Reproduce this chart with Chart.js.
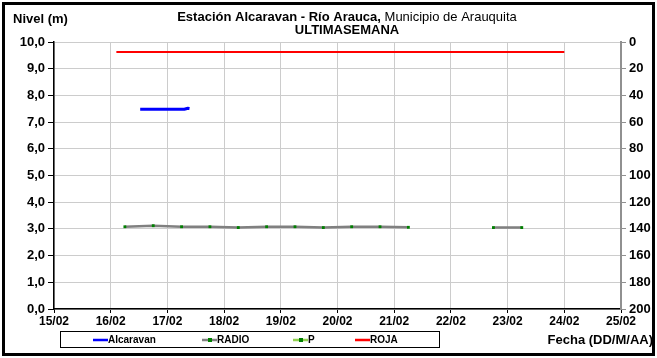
<!DOCTYPE html>
<html>
<head>
<meta charset="utf-8">
<script src="https://cdn.jsdelivr.net/npm/chart.js@4.4.1/dist/chart.umd.min.js"></script>
<style>
  html, body { margin: 0; padding: 0; background: #fff; }
  canvas { display: block; }
</style>
</head>
<body>
<canvas id="chart" width="657" height="358"></canvas>
<script>
// Data (x = day of February, y = level in m)
const alcaravanX = [16.52, 16.60, 16.70, 16.80, 16.90, 17.00, 17.10, 17.20, 17.30, 17.33, 17.36, 17.39];
const alcaravanY = [7.48, 7.48, 7.48, 7.48, 7.48, 7.48, 7.48, 7.48, 7.48, 7.50, 7.52, 7.51];

const radioX = [16.25, 16.75, 17.25, 17.75, 18.25, 18.75, 19.25, 19.75, 20.25, 20.75, 21.25, 22.0, 22.75, 23.25];
const radioY = [3.08, 3.12, 3.08, 3.08, 3.05, 3.08, 3.08, 3.05, 3.08, 3.08, 3.06, null, 3.05, 3.05];

const pX = [];
const pY = [];

const rojaX = [16.1, 24.0];
const rojaY = [9.63, 9.63];

const xMin = 15, xMax = 25;
const leftTicks = { min: 0, max: 10, step: 1 };
const rightTicks = { min: 0, max: 200, step: 20 };

const FONT = "'Liberation Sans', Arial, sans-serif";

const pts = (xs, ys) => xs.map((x, i) => ({ x, y: ys[i] }));

// Titles, outer frame, legend box and axis caption
const decor = {
  id: 'decor',
  afterDraw(chart) {
    const ctx = chart.ctx;
    ctx.save();

    // outer frame
    ctx.strokeStyle = '#000';
    ctx.lineWidth = 3;
    ctx.strokeRect(3.5, 3.5, 650, 351);

    ctx.fillStyle = '#000';
    ctx.textBaseline = 'middle';

    ctx.font = `bold 13px ${FONT}`;
    ctx.textAlign = 'left';
    ctx.fillText('Nivel (m)', 13, 19);

    // title line 1: bold + normal part
    const boldPart = 'Estación Alcaravan - Río Arauca,';
    const normalPart = ' Municipio de Arauquita';
    ctx.font = `bold 13px ${FONT}`;
    const wb = ctx.measureText(boldPart).width;
    ctx.font = `13px ${FONT}`;
    const wn = ctx.measureText(normalPart).width;
    const cx = 347;
    const x0 = cx - (wb + wn) / 2;
    ctx.font = `bold 13px ${FONT}`;
    ctx.fillText(boldPart, x0, 17);
    ctx.font = `13px ${FONT}`;
    ctx.fillText(normalPart, x0 + wb, 17);

    ctx.font = `bold 13px ${FONT}`;
    ctx.textAlign = 'center';
    ctx.fillText('ULTIMASEMANA', cx, 30);

    // axis caption
    ctx.font = `bold 13px ${FONT}`;
    ctx.textAlign = 'right';
    ctx.fillText('Fecha (DD/M/AA)', 653, 340);

    // legend box
    ctx.lineWidth = 1;
    ctx.strokeStyle = '#000';
    ctx.strokeRect(60.5, 331.5, 379, 16);
    const items = [
      { x: 93, ds: chart.data.datasets[0] },
      { x: 202, ds: chart.data.datasets[1] },
      { x: 293, ds: chart.data.datasets[2] },
      { x: 355, ds: chart.data.datasets[3] },
    ];
    ctx.font = `bold 10px ${FONT}`;
    ctx.textAlign = 'left';
    const ly = 340;
    items.forEach(it => {
      ctx.strokeStyle = it.ds.borderColor;
      ctx.lineWidth = 2.5;
      ctx.beginPath();
      ctx.moveTo(it.x, ly);
      ctx.lineTo(it.x + 15, ly);
      ctx.stroke();
      if (it.ds.legendMarker) {
        ctx.fillStyle = it.ds.pointBackgroundColor;
        ctx.fillRect(it.x + 6, ly - 2, 4, 4);
      }
      ctx.fillStyle = '#000';
      ctx.fillText(it.ds.label, it.x + 15, ly);
    });

    ctx.restore();
  }
};

new Chart(document.getElementById('chart'), {
  type: 'line',
  data: {
    datasets: [
      {
        label: 'Alcaravan', data: pts(alcaravanX, alcaravanY), yAxisID: 'y',
        borderColor: '#0000ff', borderWidth: 3, pointRadius: 0, tension: 0,
      },
      {
        label: 'RADIO', data: pts(radioX, radioY), yAxisID: 'y',
        borderColor: '#808080', borderWidth: 2.5, tension: 0, spanGaps: false,
        pointStyle: 'rect', pointRadius: 2, pointBorderWidth: 0,
        pointBackgroundColor: '#008000', pointBorderColor: '#008000', legendMarker: true,
      },
      {
        label: 'P', data: pts(pX, pY), yAxisID: 'y',
        borderColor: '#92d050', borderWidth: 2.5,
        pointStyle: 'rect', pointRadius: 2, pointBackgroundColor: '#008000', legendMarker: true,
      },
      {
        label: 'ROJA', data: pts(rojaX, rojaY), yAxisID: 'y',
        borderColor: '#ff0000', borderWidth: 2, pointRadius: 0, tension: 0,
      },
    ],
  },
  options: {
    responsive: false,
    animation: false,
    devicePixelRatio: 1,
    layout: { padding: { top: 42, left: 0, right: 0, bottom: 0 } },
    plugins: { legend: { display: false }, tooltip: { enabled: false }, title: { display: false } },
    scales: {
      x: {
        type: 'linear', min: xMin, max: xMax,
        afterFit: s => { s.height = 49; },
        ticks: {
          stepSize: 1, color: '#000', padding: 1, maxRotation: 0,
          font: { family: FONT, size: 12, weight: 'bold' },
          callback: v => `${v}/02`,
        },
        grid: { color: '#cccccc', tickColor: '#000', tickLength: 4 },
        border: { color: '#000', width: 1.5 },
      },
      y: {
        position: 'left', min: leftTicks.min, max: leftTicks.max,
        afterFit: s => { s.width = 54; },
        ticks: {
          stepSize: leftTicks.step, color: '#000', padding: 3,
          font: { family: FONT, size: 13, weight: 'bold' },
          callback: v => v.toFixed(1).replace('.', ','),
        },
        grid: { color: '#cccccc', tickColor: '#000', tickLength: 6 },
        border: { color: '#000', width: 1.5 },
      },
      y2: {
        position: 'right', min: rightTicks.min, max: rightTicks.max, reverse: true,
        afterFit: s => { s.width = 36; },
        ticks: {
          stepSize: rightTicks.step, color: '#000', padding: 3,
          font: { family: FONT, size: 13, weight: 'bold' },
        },
        grid: { drawOnChartArea: false, color: '#909090', tickLength: 5 },
        border: { color: '#909090', width: 2 },
      },
    },
  },
  plugins: [decor],
});
</script>
</body>
</html>
